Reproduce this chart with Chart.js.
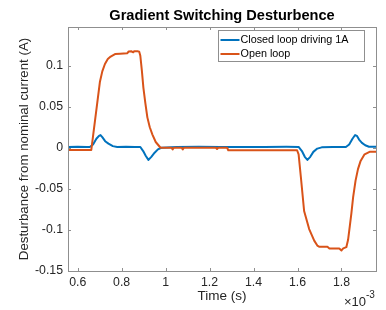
<!DOCTYPE html>
<html>
<head>
<meta charset="utf-8">
<script src="https://cdn.jsdelivr.net/npm/chart.js@4"></script>
<style>
  body { margin: 0; background: #fff; }
  canvas { display: block; }
</style>
</head>
<body>
<canvas id="dist" width="386" height="310"></canvas>
<script>
// Gradient switching disturbance, time in units of 1e-3 s

const closedT = [0.556, 0.60, 0.64, 0.655, 0.670, 0.685, 0.697, 0.704, 0.712, 0.725, 0.740, 0.760, 0.780, 0.82, 0.86, 0.885,
  0.898, 0.910, 0.922, 0.935, 0.950, 0.965, 0.980, 1.05, 1.15, 1.25, 1.35, 1.45, 1.55, 1.605,
  1.620, 1.633, 1.645, 1.658, 1.672, 1.690, 1.710, 1.76, 1.82, 1.835, 1.850, 1.862, 1.870, 1.880, 1.893, 1.908, 1.925, 1.957];
const closedI = [0.001, 0.0012, 0.0008, 0.001, 0.004, 0.011, 0.0145, 0.0155, 0.013, 0.008, 0.005, 0.002, 0.001, 0.0012, 0.0008, 0.001,
  -0.004, -0.010, -0.0148, -0.011, -0.006, -0.002, 0.0, 0.0008, 0.0012, 0.001, 0.0009, 0.001, 0.0011, 0.001,
  -0.004, -0.011, -0.0148, -0.011, -0.005, -0.001, 0.0005, 0.001, 0.001, 0.004, 0.011, 0.0155, 0.0145, 0.010, 0.006, 0.003, 0.0013, 0.0013];

const openT = [0.556, 0.662, 0.701, 0.712, 0.724, 0.737, 0.750, 0.770, 0.793, 0.825, 0.832, 0.845, 0.849,
  0.853, 0.857, 0.872, 0.880, 0.885, 0.892, 0.899, 0.908, 0.917, 0.928, 0.940, 0.955, 0.977, 1.027, 1.032, 1.037,
  1.073, 1.078, 1.083, 1.229, 1.234, 1.239, 1.280, 1.285, 1.598, 1.605, 1.615, 1.630, 1.653, 1.676, 1.690,
  1.700, 1.736, 1.745, 1.790, 1.800, 1.808, 1.822, 1.830, 1.838, 1.845, 1.853, 1.864, 1.875, 1.887, 1.905, 1.930, 1.957];
const openI = [-0.0027, -0.0027, 0.080, 0.093, 0.102, 0.108, 0.111, 0.114, 0.1145, 0.115, 0.1172, 0.1175, 0.1165,
  0.1162, 0.1175, 0.1175, 0.117, 0.112, 0.094, 0.073, 0.054, 0.037, 0.025, 0.016, 0.007, 0.0, 0.0, -0.002, 0.0,
  0.0, -0.002, 0.0, 0.0, -0.0015, 0.0, 0.0, -0.003, -0.003, -0.008, -0.035, -0.077, -0.099, -0.113, -0.119,
  -0.1205, -0.1205, -0.1225, -0.1225, -0.125, -0.1225, -0.121, -0.112, -0.095, -0.080, -0.060, -0.040, -0.026, -0.016, -0.008, -0.0047, -0.0047];

const seriesNames = ['Closed loop driving 1A', 'Open loop'];
const seriesColors = ['#0072BD', '#D95319'];
const xTicks = [0.6, 0.8, 1, 1.2, 1.4, 1.6, 1.8];
const yTicks = [-0.15, -0.1, -0.05, 0, 0.05, 0.1];

const FONT = '"Liberation Sans", Arial, Helvetica, sans-serif';
const INK = '#262626';
const AXIS = '#8f8f8f';

function pairs(xs, ys) {
  return xs.map((x, i) => ({ x, y: ys[i] }));
}

// axes box, inward ticks, title, legend and x exponent, MATLAB style
const matlabFrame = {
  id: 'matlabFrame',
  afterDatasetsDraw(chart) {
    const { ctx, chartArea: a, scales } = chart;
    ctx.save();
    ctx.strokeStyle = AXIS;
    ctx.lineWidth = 1;
    ctx.beginPath();
    xTicks.forEach(v => {
      const px = Math.round(scales.x.getPixelForValue(v)) + 0.5;
      ctx.moveTo(px, a.bottom); ctx.lineTo(px, a.bottom - 3);
      ctx.moveTo(px, a.top); ctx.lineTo(px, a.top + 3);
    });
    yTicks.forEach(v => {
      const py = Math.round(scales.y.getPixelForValue(v)) + 0.5;
      ctx.moveTo(a.left, py); ctx.lineTo(a.left + 3, py);
      ctx.moveTo(a.right, py); ctx.lineTo(a.right - 3, py);
    });
    ctx.stroke();
    ctx.strokeRect(Math.round(a.left) + 0.5, Math.round(a.top) + 0.5,
      Math.round(a.right - a.left), Math.round(a.bottom - a.top));

    // title over the axes
    ctx.fillStyle = '#000';
    ctx.font = 'bold 14.6px ' + FONT;
    ctx.textAlign = 'center';
    ctx.textBaseline = 'middle';
    ctx.fillText('Gradient Switching Desturbence', (a.left + a.right) / 2, 15.5);

    // legend box
    const lx = a.right - 157.5, ly = a.top + 3.5, lw = 146, lh = 31;
    ctx.fillStyle = '#fff';
    ctx.fillRect(lx, ly, lw, lh);
    ctx.strokeStyle = AXIS;
    ctx.strokeRect(lx, ly, lw, lh);
    ctx.font = '10.8px ' + FONT;
    ctx.textAlign = 'left';
    chart.data.datasets.forEach((ds, i) => {
      const ry = ly + 9.5 + i * 14;
      ctx.strokeStyle = ds.borderColor;
      ctx.lineWidth = 2;
      ctx.beginPath();
      ctx.moveTo(lx + 2, ry); ctx.lineTo(lx + 21, ry);
      ctx.stroke();
      ctx.fillStyle = '#000';
      ctx.fillText(ds.label, lx + 22, ry);
    });

    // x exponent
    ctx.fillStyle = INK;
    ctx.font = '13px ' + FONT;
    ctx.textAlign = 'right';
    ctx.fillText('\u00d710', a.right - 10, 302);
    ctx.font = '10px ' + FONT;
    ctx.textAlign = 'left';
    ctx.fillText('-3', a.right - 10, 295);
    ctx.restore();
  }
};

window.addEventListener('DOMContentLoaded', () => {
  const ctx = document.getElementById('dist').getContext('2d');
  new Chart(ctx, {
    type: 'line',
    data: {
      datasets: [
        { label: seriesNames[0], data: pairs(closedT, closedI), borderColor: seriesColors[0], order: 1 },
        { label: seriesNames[1], data: pairs(openT, openI), borderColor: seriesColors[1], order: 0 }
      ]
    },
    options: {
      responsive: false,
      animation: false,
      devicePixelRatio: 1,
      layout: { padding: { top: 27, right: 10, left: 0, bottom: 0 } },
      elements: {
        point: { radius: 0 },
        line: { borderWidth: 2, tension: 0, fill: false, borderJoinStyle: 'round' }
      },
      plugins: {
        legend: { display: false },
        title: { display: false },
        tooltip: { enabled: false }
      },
      scales: {
        x: {
          type: 'linear',
          min: 0.556,
          max: 1.957,
          afterBuildTicks: s => { s.ticks = xTicks.map(v => ({ value: v })); },
          afterFit: s => { s.height = 39; },
          grid: { display: false, drawTicks: false },
          border: { display: false },
          ticks: {
            color: INK, padding: 4, maxRotation: 0, autoSkip: false,
            font: { family: FONT, size: 12.3 },
            callback: v => String(v)
          },
          title: {
            display: true, text: 'Time (s)', color: INK,
            font: { family: FONT, size: 13.5 },
            padding: { top: 0, bottom: 6 }
          }
        },
        y: {
          min: -0.15,
          max: 0.147,
          afterBuildTicks: s => { s.ticks = yTicks.map(v => ({ value: v })); },
          afterFit: s => { s.width = 68; },
          grid: { display: false, drawTicks: false },
          border: { display: false },
          ticks: {
            color: INK, padding: 5, autoSkip: false,
            font: { family: FONT, size: 12.3 },
            callback: v => String(v)
          },
          title: {
            display: true, text: 'Desturbance from nominal current (A)', color: INK,
            font: { family: FONT, size: 13.3 },
            padding: { top: 16, bottom: 0 }
          }
        }
      }
    },
    plugins: [matlabFrame]
  });
});
</script>
</body>
</html>
